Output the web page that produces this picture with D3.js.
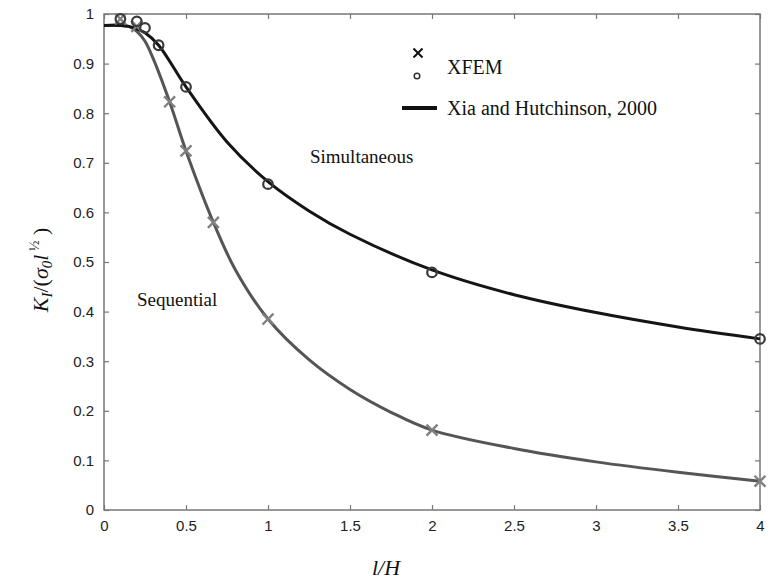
<!DOCTYPE html>
<html>
<head>
<meta charset="utf-8">
<script src="https://cdn.jsdelivr.net/npm/d3@7"></script>
<style>
  body { margin: 0; background: #fff; }
  svg { display: block; }
</style>
</head>
<body>
<svg id="chart" width="771" height="585"></svg>
<script>
const width = 771;
const height = 585;

// XFEM points
const simX = [0.1, 0.2, 0.25, 0.333, 0.5, 1, 2, 4];
const simY = [0.99, 0.985, 0.972, 0.937, 0.853, 0.657, 0.479, 0.345];
const seqX = [0.1, 0.2, 0.4, 0.5, 0.667, 1, 2, 4];
const seqY = [0.99, 0.975, 0.823, 0.724, 0.58, 0.385, 0.161, 0.058];

// Xia and Hutchinson curves
const curveSimX = [0, 0.1, 0.15, 0.2, 0.25, 0.333, 0.5, 0.75, 1, 1.25, 1.5, 2, 2.5, 3, 3.5, 4];
const curveSimY = [0.977, 0.977, 0.975, 0.97, 0.962, 0.937, 0.853, 0.742, 0.662, 0.603, 0.556, 0.484, 0.434, 0.398, 0.369, 0.345];
const curveSeqX = [0, 0.1, 0.15, 0.2, 0.25, 0.3, 0.4, 0.5, 0.667, 0.8, 1, 1.25, 1.5, 1.75, 2, 2.5, 3, 3.5, 4];
const curveSeqY = [0.977, 0.977, 0.975, 0.965, 0.945, 0.91, 0.823, 0.724, 0.58, 0.485, 0.385, 0.303, 0.243, 0.197, 0.161, 0.124, 0.097, 0.076, 0.058];

const xTicks = [0, 0.5, 1, 1.5, 2, 2.5, 3, 3.5, 4];
const yTicks = [0, 0.1, 0.2, 0.3, 0.4, 0.5, 0.6, 0.7, 0.8, 0.9, 1];

const margin = { left: 104, right: 11, top: 14, bottom: 75 };

const x = d3.scaleLinear().domain([0, 4]).range([margin.left, width - margin.right]);
const y = d3.scaleLinear().domain([0, 1]).range([height - margin.bottom, margin.top]);

const svg = d3.select('#chart');
const axisColor = '#777';

// frame
svg.append('rect')
  .attr('x', x(0)).attr('y', y(1))
  .attr('width', x(4) - x(0)).attr('height', y(0) - y(1))
  .attr('fill', 'none').attr('stroke', axisColor).attr('stroke-width', 1.5);

function styleAxis(g) {
  g.select('.domain').remove();
  g.selectAll('.tick line').attr('stroke', axisColor).attr('stroke-width', 1.2);
  g.selectAll('.tick text')
    .attr('font-family', 'Liberation Sans, Arial, sans-serif')
    .attr('font-size', 15).attr('fill', '#222');
}

svg.append('g')
  .attr('transform', `translate(0,${y(0)})`)
  .call(d3.axisBottom(x).tickValues(xTicks).tickFormat(d3.format('')).tickSizeInner(-5).tickPadding(10))
  .call(styleAxis);
svg.append('g')
  .attr('transform', `translate(0,${y(1)})`)
  .call(d3.axisTop(x).tickValues(xTicks).tickFormat('').tickSizeInner(-5))
  .call(styleAxis);
svg.append('g')
  .attr('transform', `translate(${x(0)},0)`)
  .call(d3.axisLeft(y).tickValues(yTicks).tickFormat(d3.format('')).tickSizeInner(-5).tickPadding(10))
  .call(styleAxis);
svg.append('g')
  .attr('transform', `translate(${x(4)},0)`)
  .call(d3.axisRight(y).tickValues(yTicks).tickFormat('').tickSizeInner(-5))
  .call(styleAxis);

// curves
const line = d3.line()
  .x(d => x(d[0]))
  .y(d => y(d[1]))
  .curve(d3.curveCatmullRom.alpha(0.5));

svg.append('path')
  .attr('d', line(d3.zip(curveSeqX, curveSeqY)))
  .attr('fill', 'none').attr('stroke', '#555').attr('stroke-width', 3);
svg.append('path')
  .attr('d', line(d3.zip(curveSimX, curveSimY)))
  .attr('fill', 'none').attr('stroke', '#151515').attr('stroke-width', 3);

// XFEM markers
const cross = d3.symbol().type(d3.symbolX).size(80);
svg.selectAll('path.seq')
  .data(d3.zip(seqX, seqY))
  .join('path')
  .attr('class', 'seq')
  .attr('d', cross)
  .attr('transform', d => `translate(${x(d[0])},${y(d[1])})`)
  .attr('fill', 'none').attr('stroke', '#808080').attr('stroke-width', 2.4);

svg.selectAll('circle.sim')
  .data(d3.zip(simX, simY))
  .join('circle')
  .attr('class', 'sim')
  .attr('cx', d => x(d[0]))
  .attr('cy', d => y(d[1]))
  .attr('r', 4.8)
  .attr('fill', 'none').attr('stroke', '#3a3a3a').attr('stroke-width', 2.2);

// legend
const serif = 'Liberation Serif, Times New Roman, serif';
svg.append('path')
  .attr('d', d3.symbol().type(d3.symbolX).size(55))
  .attr('transform', 'translate(418,53)')
  .attr('fill', 'none').attr('stroke', '#111').attr('stroke-width', 2);
svg.append('circle')
  .attr('cx', 417).attr('cy', 76).attr('r', 2.8)
  .attr('fill', 'none').attr('stroke', '#333').attr('stroke-width', 1.5);
svg.append('text')
  .attr('x', 447).attr('y', 74)
  .attr('font-family', serif).attr('font-size', 20).attr('fill', '#111')
  .text('XFEM');
svg.append('line')
  .attr('x1', 402).attr('x2', 437).attr('y1', 108).attr('y2', 108)
  .attr('stroke', '#111').attr('stroke-width', 4);
svg.append('text')
  .attr('x', 447).attr('y', 115)
  .attr('font-family', serif).attr('font-size', 20).attr('fill', '#111')
  .text('Xia and Hutchinson, 2000');

// curve labels
svg.append('text')
  .attr('x', 310).attr('y', 163)
  .attr('font-family', serif).attr('font-size', 19).attr('fill', '#111')
  .text('Simultaneous');
svg.append('text')
  .attr('x', 137).attr('y', 306)
  .attr('font-family', serif).attr('font-size', 19).attr('fill', '#111')
  .text('Sequential');

// axis titles
svg.append('text')
  .attr('x', 386).attr('y', 575)
  .attr('text-anchor', 'middle')
  .attr('font-family', serif).attr('font-size', 22).attr('font-style', 'italic').attr('fill', '#111')
  .text('l/H');

const yl = svg.append('text')
  .attr('transform', 'translate(48,270) rotate(-90)')
  .attr('text-anchor', 'middle')
  .attr('font-family', serif).attr('font-size', 22).attr('fill', '#111');
yl.append('tspan').attr('font-style', 'italic').text('K');
yl.append('tspan').attr('font-style', 'italic').attr('font-size', 15).attr('dy', 4).text('I');
yl.append('tspan').attr('dy', -4).text('/(');
yl.append('tspan').attr('font-style', 'italic').text('σ');
yl.append('tspan').attr('font-style', 'italic').attr('font-size', 15).attr('dy', 4).text('0');
yl.append('tspan').attr('font-style', 'italic').attr('dy', -4).text('l');
yl.append('tspan').attr('font-size', 14).attr('dy', -9).text(' ½');
yl.append('tspan').attr('dy', 9).text(' )');
</script>
</body>
</html>
